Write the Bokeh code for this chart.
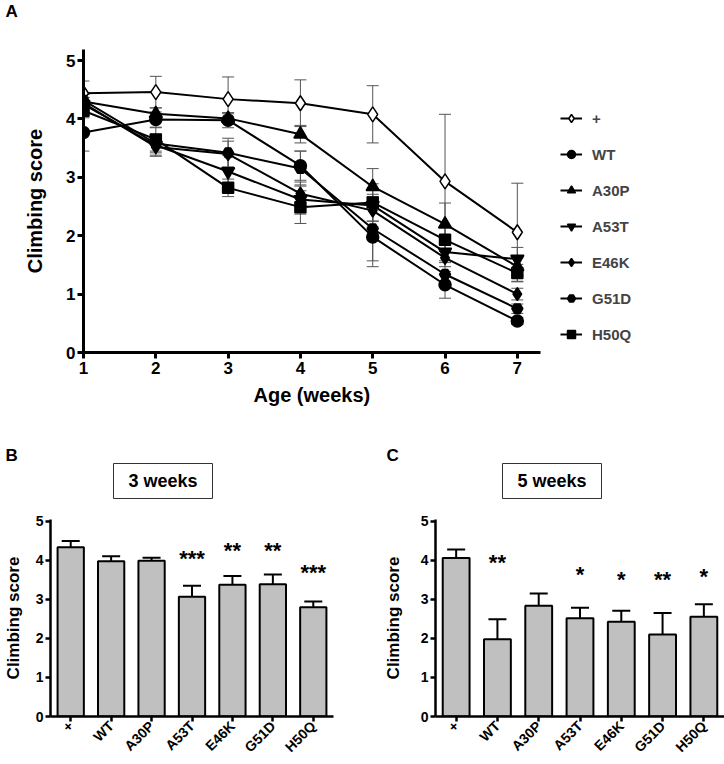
import math
from bokeh.plotting import figure
from bokeh.models import (ColumnDataSource, Whisker, TeeHead, Legend, LegendItem,
                          FixedTicker, FactorRange, Range1d, Title)
from bokeh.layouts import column, row
from bokeh.embed import file_html
from bokeh.resources import INLINE
from bokeh.core.properties import value

FONT = "Liberation Sans"

# ---------------- data ----------------
weeks = [1, 2, 3, 4, 5, 6, 7]
genotypes = ["+", "WT", "A30P", "A53T", "E46K", "G51D", "H50Q"]

score_plus = [4.44, 4.46, 4.34, 4.27, 4.08, 2.93, 2.06]
err_plus = [0.21, 0.27, 0.38, 0.40, 0.49, 1.15, 0.84]
score_wt = [3.77, 3.99, 3.98, 3.20, 1.98, 1.16, 0.54]
err_wt = [0.32, 0.13, 0.13, 0.25, 0.51, 0.23, 0.06]
score_a30p = [4.30, 4.09, 4.01, 3.74, 2.84, 2.20, 1.47]
err_a30p = [0.15, 0.10, 0.08, 0.15, 0.31, 0.36, 0.15]
score_a53t = [4.25, 3.55, 3.10, 2.62, 2.52, 1.72, 1.60]
err_a53t = [0.12, 0.17, 0.28, 0.25, 0.27, 0.15, 0.20]
score_e46k = [4.27, 3.52, 3.40, 2.72, 2.43, 1.62, 1.00]
err_e46k = [0.10, 0.16, 0.22, 0.20, 0.28, 0.15, 0.10]
score_g51d = [4.32, 3.58, 3.42, 3.15, 2.12, 1.34, 0.75]
err_g51d = [0.10, 0.16, 0.25, 0.30, 0.55, 0.20, 0.08]
score_h50q = [4.14, 3.65, 2.82, 2.49, 2.57, 1.93, 1.36]
err_h50q = [0.12, 0.20, 0.15, 0.28, 0.32, 0.20, 0.15]

series_scores = [score_plus, score_wt, score_a30p, score_a53t, score_e46k, score_g51d, score_h50q]
series_errs = [err_plus, err_wt, err_a30p, err_a53t, err_e46k, err_g51d, err_h50q]

wk3_mean = [4.34, 3.98, 3.99, 3.07, 3.38, 3.39, 2.80]
wk3_err = [0.16, 0.13, 0.08, 0.28, 0.22, 0.25, 0.15]
wk3_star_groups = ["A53T", "E46K", "G51D", "H50Q"]
wk3_stars = ["***", "**", "**", "***"]
wk3_star_y = [4.05, 4.25, 4.25, 3.68]

wk5_mean = [4.06, 1.98, 2.84, 2.52, 2.43, 2.10, 2.56]
wk5_err = [0.22, 0.51, 0.31, 0.27, 0.28, 0.55, 0.32]
wk5_star_groups = ["WT", "A53T", "E46K", "G51D", "H50Q"]
wk5_stars = ["**", "*", "*", "**", "*"]
wk5_star_y = [3.94, 3.65, 3.50, 3.50, 3.60]

panel_letters = ["B", "C"]
panel_titles = ["3 weeks", "5 weeks"]

# ---------------- styles ----------------
marker_styles = [
    dict(marker="diamond", size=15, fill_color="white"),
    dict(marker="circle", size=12, fill_color="black"),
    dict(marker="triangle", size=13, fill_color="black"),
    dict(marker="inverted_triangle", size=13, fill_color="black"),
    dict(marker="diamond", size=13, fill_color="black"),
    dict(marker="hex", size=11, fill_color="black"),
    dict(marker="square", size=11, fill_color="black"),
]


def style_axes(p, tick_font, lw, tick_out):
    for ax in p.axis:
        ax.axis_line_width = lw
        ax.axis_line_color = "black"
        ax.major_tick_line_width = lw
        ax.major_tick_line_color = "black"
        ax.major_tick_out = tick_out
        ax.major_tick_in = 0
        ax.minor_tick_line_color = None
        ax.major_label_text_font = FONT
        ax.major_label_text_font_style = "bold"
        ax.major_label_text_font_size = tick_font
        ax.major_label_text_color = "black"
        ax.axis_label_text_font = FONT
        ax.axis_label_text_font_style = "bold"
        ax.axis_label_text_color = "black"
    p.xgrid.visible = False
    p.ygrid.visible = False
    p.outline_line_color = None


def header(height):
    h = figure(width=724, height=height, x_range=Range1d(0, 724), y_range=Range1d(0, height),
               min_border=0, x_axis_location=None, y_axis_location=None,
               output_backend="svg", toolbar_location=None)
    h.grid.visible = False
    h.outline_line_color = None
    return h


# ---------------- header for panel A ----------------
hA = header(20)
hA.text(x=[5], y=[9], text=["A"], text_font=value(FONT), text_font_style="bold",
        text_font_size="17px", text_baseline="middle", text_align="left", text_color="black")

# ---------------- panel A ----------------
pA = figure(width=724, height=410, x_range=Range1d(1, 9.81), y_range=Range1d(0, 5.19),
            min_border_left=83, min_border_right=4, min_border_top=29, min_border_bottom=78,
            output_backend="svg", toolbar_location=None)
style_axes(pA, "17px", 3, 6)
pA.xaxis.ticker = FixedTicker(ticks=weeks)
pA.xaxis.bounds = (1, 7.32)
pA.yaxis.ticker = FixedTicker(ticks=[0, 1, 2, 3, 4, 5])
pA.yaxis.axis_label = "Climbing score"
pA.yaxis.axis_label_text_font_size = "20px"
pA.xaxis.major_label_standoff = 3
pA.yaxis.major_label_standoff = 2
pA.yaxis.axis_label_standoff = 17
pA.add_layout(Title(text="Age (weeks)", align="left", offset=170, standoff=10,
                    text_font=FONT, text_font_style="bold", text_font_size="20px",
                    text_color="black"), "below")

items = []
for name, sc, er, ms in zip(genotypes, series_scores, series_errs, marker_styles):
    src = ColumnDataSource(dict(x=weeks, y=sc,
                                up=[a + b for a, b in zip(sc, er)],
                                lo=[a - b for a, b in zip(sc, er)]))
    wh = Whisker(source=src, base="x", upper="up", lower="lo", line_color="#555555",
                 line_width=1, level="underlay",
                 upper_head=TeeHead(size=12, line_color="#555555", line_width=1),
                 lower_head=TeeHead(size=12, line_color="#555555", line_width=1))
    pA.add_layout(wh)
    lr = pA.line("x", "y", source=src, line_color="black", line_width=2)
    sr = pA.scatter("x", "y", source=src, marker=ms["marker"], size=ms["size"],
                    fill_color=ms["fill_color"], line_color="black", line_width=1.5)
    items.append(LegendItem(label=name, renderers=[lr, sr]))

legend = Legend(items=items, location=(477, 8), glyph_width=22, glyph_height=20,
                label_height=20, spacing=16, label_standoff=10, padding=0, margin=0,
                border_line_color=None, background_fill_alpha=0,
                label_text_font=FONT, label_text_font_style="bold",
                label_text_font_size="15px")
pA.add_layout(legend)

# ---------------- header for panels B, C ----------------
hBC = header(70)
hBC.text(x=[5, 386], y=[45, 45], text=panel_letters, text_font=value(FONT),
         text_font_style="bold", text_font_size="17px", text_baseline="middle",
         text_align="left", text_color="black")
hBC.rect(x=[162.5, 551.5], y=[19.5, 19.5], width=99, height=35, fill_color=None,
         line_color="#333333", line_width=1)
hBC.text(x=[162.5, 551.5], y=[19.5, 19.5], text=panel_titles, text_font=value(FONT),
         text_font_style="bold", text_font_size="18px", text_baseline="middle",
         text_align="center", text_color="black")


# ---------------- panels B, C ----------------
def bar_panel(means, errs, star_groups, stars, star_y, width, left, right, label_standoff):
    p = figure(width=width, height=264,
               x_range=FactorRange(factors=genotypes, range_padding=0),
               y_range=Range1d(0, 5.05),
               min_border_left=left, min_border_right=right, min_border_top=19,
               min_border_bottom=48, output_backend="svg", toolbar_location=None)
    style_axes(p, "14px", 2.5, 5)
    p.xaxis.major_label_text_font_size = "14px"
    p.xaxis.major_label_orientation = math.pi / 4
    p.xaxis.major_label_standoff = 2
    p.yaxis.ticker = FixedTicker(ticks=[0, 1, 2, 3, 4, 5])
    p.yaxis.major_label_standoff = 2
    p.yaxis.axis_label = "Climbing score"
    p.yaxis.axis_label_text_font_size = "17px"
    p.yaxis.axis_label_standoff = label_standoff
    src = ColumnDataSource(dict(g=genotypes, v=means,
                                up=[a + b for a, b in zip(means, errs)],
                                lo=[a - b for a, b in zip(means, errs)]))
    p.vbar(x="g", top="v", width=0.65, source=src, fill_color="#c0c0c0",
           line_color="black", line_width=2)
    p.add_layout(Whisker(source=src, base="g", upper="up", lower="lo",
                         line_color="black", line_width=2,
                         upper_head=TeeHead(size=18, line_color="black", line_width=2),
                         lower_head=TeeHead(size=18, line_color="black", line_width=2)))
    p.text(x=star_groups, y=star_y, text=stars, text_font=value(FONT),
           text_font_style="bold", text_font_size="22px", text_align="center",
           text_baseline="middle", text_color="black")
    return p


pB = bar_panel(wk3_mean, wk3_err, wk3_star_groups, wk3_stars, wk3_star_y, 362, 46, 29, 10)
pC = bar_panel(wk5_mean, wk5_err, wk5_star_groups, wk5_stars, wk5_star_y, 362, 73, 0, 15)

layout = column(row(hA), pA, row(hBC), row(pB, pC))
open("out.html", "w").write(file_html(layout, INLINE))
